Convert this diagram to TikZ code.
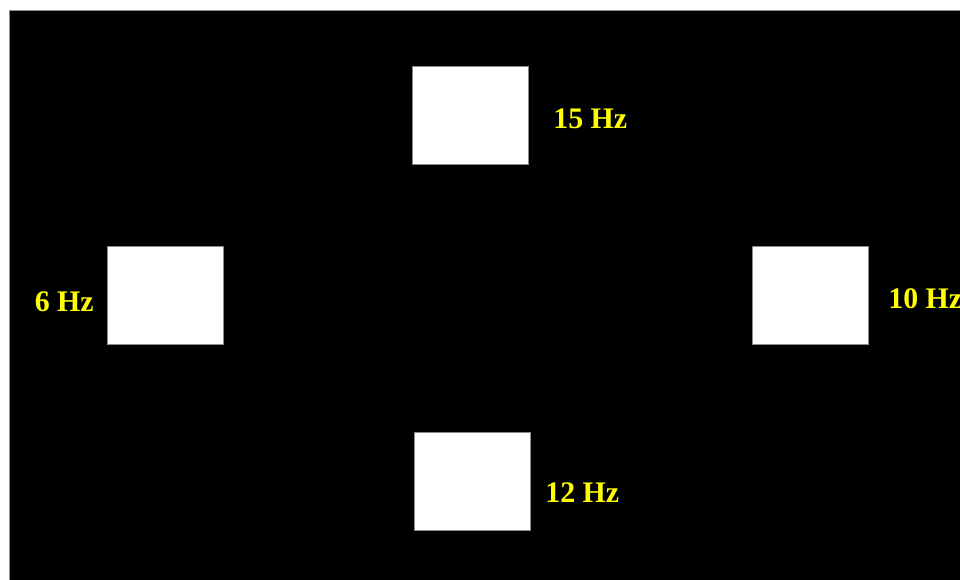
\documentclass[tikz,border=0pt]{standalone}
\usepackage{fontspec}
\setmainfont{Liberation Serif}
\usetikzlibrary{positioning}
\definecolor{hzyellow}{HTML}{FFFF00}
\definecolor{rim}{HTML}{8A8A8A}
\tikzset{
  stim/.style={draw=rim, fill=white, line width=0.5pt, minimum width=2.32cm, minimum height=1.96cm, inner sep=0pt},
  freq/.style={text=hzyellow, font=\fontsize{17}{20}\selectfont\bfseries, inner sep=0pt},
}
\begin{document}
\begin{tikzpicture}[x=0.02cm, y=-0.02cm]
        \useasboundingbox (0,0) rectangle (960,579);
        \fill[white] (0,0) rectangle (960,579);
        \draw[rim, fill=black, line width=0.6pt] (9.5,10.5) rectangle (975,590);
        \node[stim] (top)    at (470,115) {};
        \node[stim] (left)   at (165,295) {};
        \node[stim] (right)  at (810,295) {};
        \node[stim] (bottom) at (472,481) {};
        \node[freq, anchor=west] (f15) at (553,119) {15 Hz};
        \node[freq, anchor=east] (f6)  at (94,302)  {6 Hz};
        \node[freq, anchor=west] (f10) at (888,299) {10 Hz};
        \node[freq, anchor=west] (f12) at (545,493) {12 Hz};
      \end{tikzpicture}
\end{document}
